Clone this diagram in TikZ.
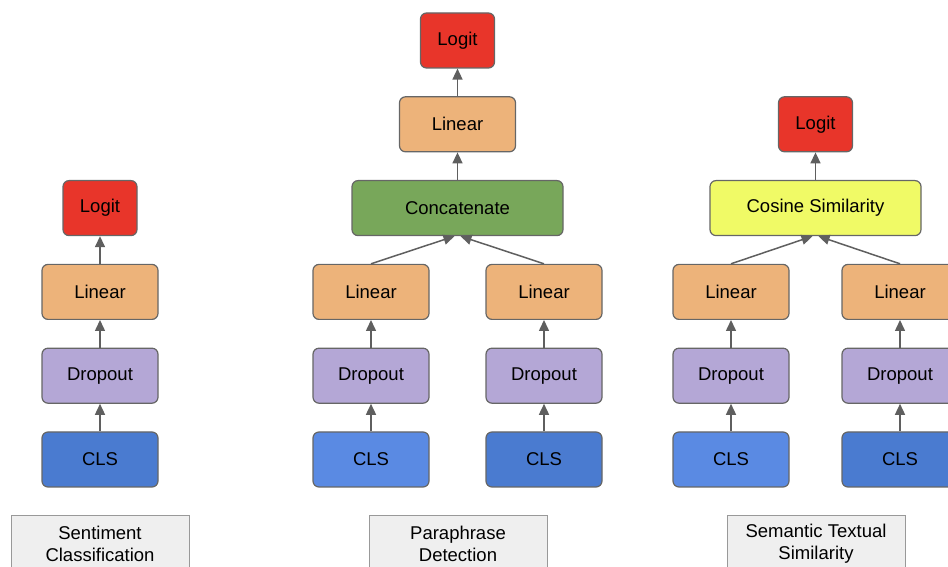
\documentclass[tikz,border=0pt]{standalone}
\usepackage{fontspec}
\setmainfont{Liberation Sans}
\usetikzlibrary{positioning,calc,arrows.meta}
\definecolor{logitred}{HTML}{E8352A}
\definecolor{linorange}{HTML}{EDB37A}
\definecolor{dropviolet}{HTML}{B4A7D6}
\definecolor{clsdark}{HTML}{4A7BD0}
\definecolor{clslight}{HTML}{5A8AE3}
\definecolor{catgreen}{HTML}{78A75A}
\definecolor{cosyellow}{HTML}{F0FA66}
\definecolor{boxgray}{HTML}{666666}
\definecolor{arrowgray}{HTML}{5F5F5F}
\definecolor{taskfill}{HTML}{EFEFEF}
\definecolor{taskgray}{HTML}{999999}

\begin{document}
\begin{tikzpicture}[x=1pt,y=1pt,
   every node/.style={font=\fontsize{18.5}{22}\selectfont},
   block/.style={draw=boxgray,line width=1.2pt,rounded corners=6pt,
     minimum width=116pt,minimum height=55pt,inner sep=0pt},
   logitbox/.style={block,fill=logitred,minimum width=74pt},
   linbox/.style={block,fill=linorange},
   dropbox/.style={block,fill=dropviolet},
   clsbox/.style={block,fill=clsdark},
   widebox/.style={block,minimum width=211pt},
   taskbox/.style={draw=taskgray,line width=1pt,fill=taskfill,anchor=north,
     minimum width=178pt,minimum height=57pt,align=center},
   flow/.style={draw=arrowgray,line width=1.5pt,-{Triangle[length=11pt,width=10pt]}},
   node distance=27.6pt]
\useasboundingbox (0,0) rectangle (948,567);
\clip (0,0) rectangle (948,567);

% sentiment classification
\node[clsbox] (sCls) at (100,107.5) {CLS};
\node[dropbox,above=of sCls] (sDrop) {Dropout};
\node[linbox,above=of sDrop] (sLin) {Linear};
\node[logitbox,above=of sLin] (sLogit) {Logit};
\foreach \a/\b in {sCls/sDrop,sDrop/sLin,sLin/sLogit}
   \draw[flow] (\a) -- (\b);
\node[taskbox] (sTask) at (100,52) {Sentiment\\Classification};

% paraphrase detection
\foreach \n/\x/\c in {A/371/clslight,B/544/clsdark}{
   \node[clsbox,fill=\c] (pCls\n) at (\x,107.5) {CLS};
   \node[dropbox,above=of pCls\n] (pDrop\n) {Dropout};
   \node[linbox,above=of pDrop\n] (pLin\n) {Linear};
   \draw[flow] (pCls\n) -- (pDrop\n);
   \draw[flow] (pDrop\n) -- (pLin\n);
}
\coordinate (pMid) at ($(pLinA.north)!.5!(pLinB.north)$);
\node[widebox,fill=catgreen,above=of pMid] (pCat) {Concatenate};
\node[linbox,above=of pCat] (pLin) {Linear};
\node[logitbox,above=of pLin] (pLogit) {Logit};
\draw[flow] (pLinA.north) -- ([xshift=-3pt]pCat.south);
\draw[flow] (pLinB.north) -- ([xshift=3pt]pCat.south);
\draw[flow] (pCat) -- (pLin);
\draw[flow] (pLin) -- (pLogit);
\node[taskbox] (pTask) at (458,52) {Paraphrase\\Detection};

% semantic textual similarity
\foreach \n/\x/\c in {A/731/clslight,B/900/clsdark}{
   \node[clsbox,fill=\c] (tCls\n) at (\x,107.5) {CLS};
   \node[dropbox,above=of tCls\n] (tDrop\n) {Dropout};
   \node[linbox,above=of tDrop\n] (tLin\n) {Linear};
   \draw[flow] (tCls\n) -- (tDrop\n);
   \draw[flow] (tDrop\n) -- (tLin\n);
}
\coordinate (tMid) at ($(tLinA.north)!.5!(tLinB.north)$);
\node[widebox,fill=cosyellow,above=of tMid] (tCos) {Cosine Similarity};
\node[logitbox,above=of tCos] (tLogit) {Logit};
\draw[flow] (tLinA.north) -- ([xshift=-3pt]tCos.south);
\draw[flow] (tLinB.north) -- ([xshift=3pt]tCos.south);
\draw[flow] (tCos) -- (tLogit);
\node[taskbox] (tTask) at (816,52) {Semantic Textual\\Similarity};
\end{tikzpicture}
\end{document}
